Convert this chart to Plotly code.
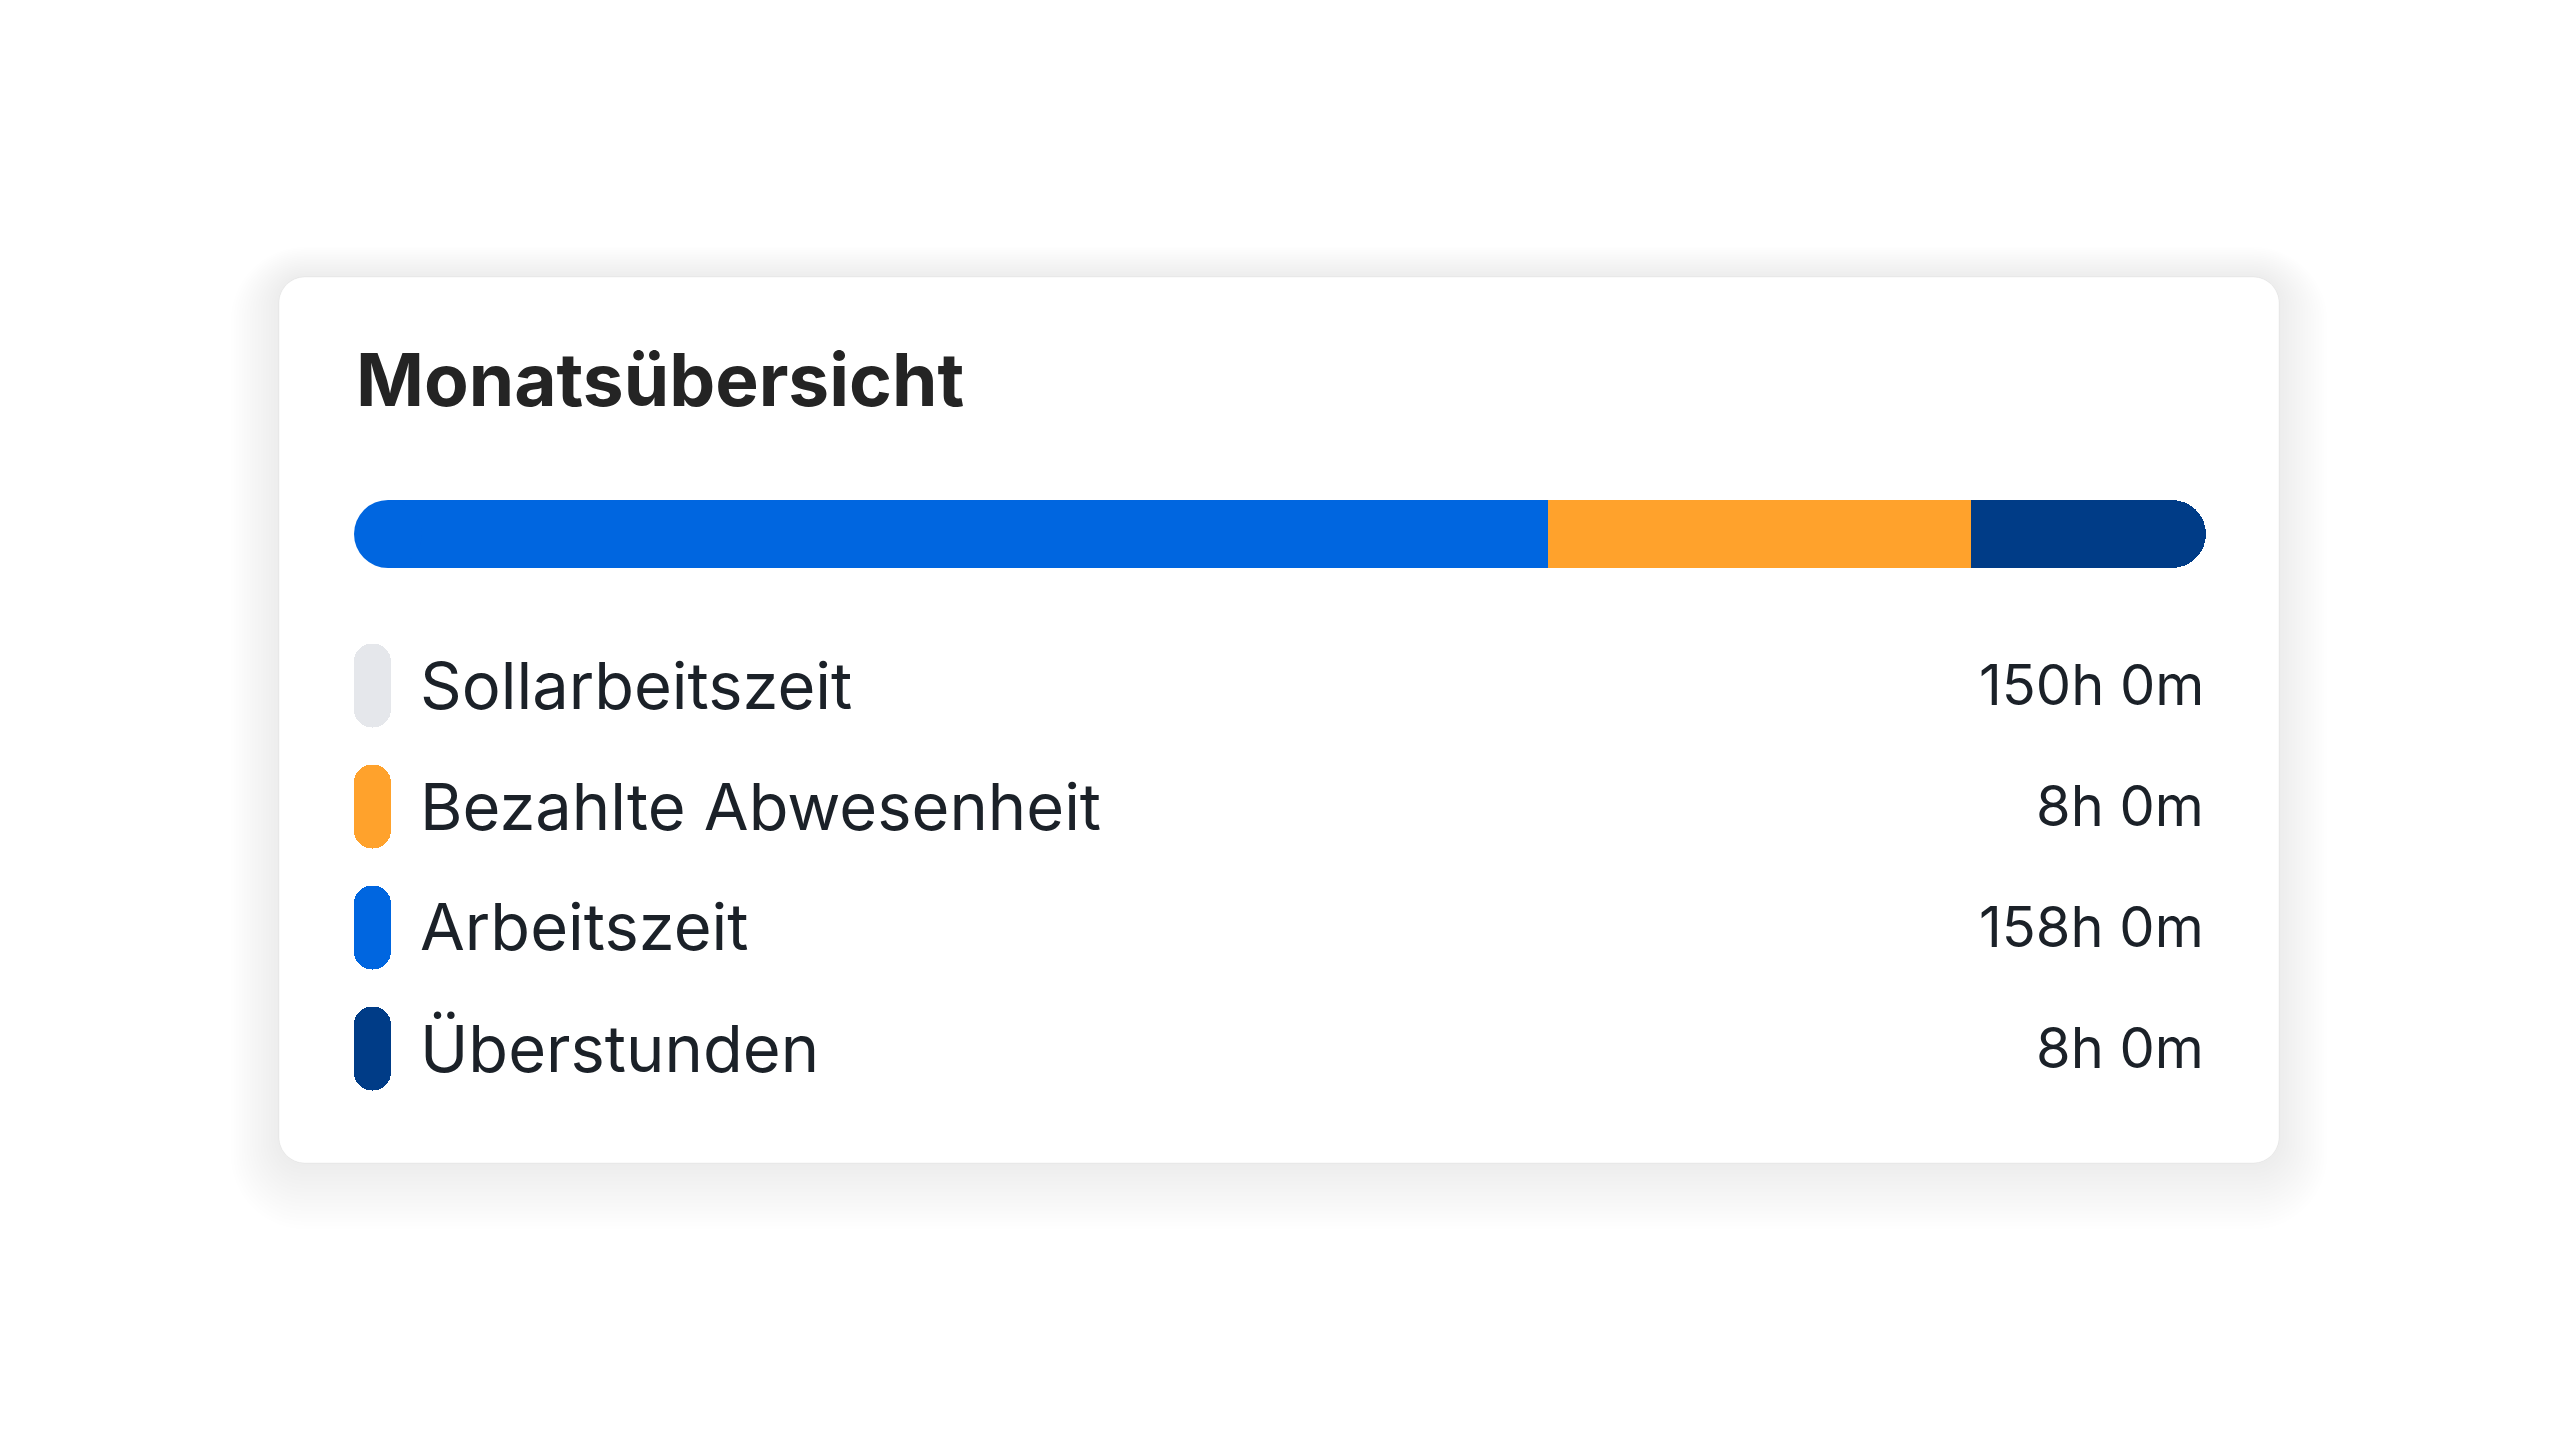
import plotly.graph_objects as go

W, H = 2560, 1440
OFF = 8  # page body margin of the written html

# ---------------- data ----------------
title = "Monatsübersicht"
bar_categories = ["Arbeitszeit", "Bezahlte Abwesenheit", "Überstunden"]
bar_shares = [63.8, 23.3, 12.9]          # share of the progress bar
bar_colors = ["#0066E0", "#FFA22C", "#003C87"]

legend_labels = ["Sollarbeitszeit", "Bezahlte Abwesenheit", "Arbeitszeit", "Überstunden"]
legend_values = ["150h 0m", "8h 0m", "158h 0m", "8h 0m"]
legend_colors = ["#E5E7EB", "#FFA22C", "#0066E0", "#003C87"]

# ---------------- layout constants (pixels, screen coordinates) ----------------
CARD = (279, 277, 2279, 1163)
CARD_R = 26
BAR_X0, BAR_X1 = 354, 2206
BAR_Y0, BAR_Y1 = 500, 568
CAP = (BAR_Y1 - BAR_Y0) / 2
ROW_Y0, ROW_STEP = 685, 121
PILL_X0, PILL_X1 = 354, 391
PILL_H = 84
LABEL_X = 418
VALUE_X = 2206
TITLE_X, TITLE_Y = 354, 380

TEXT_DARK = "#1B2128"
TITLE_COLOR = "#242424"
FONT = "Inter"


def px(x):
    return (x - OFF) / W


def py(y):
    return 1 - (y - OFF) / H


def rrect_path(x0, y0, x1, y1, r):
    k = 0.5523 * r
    pts = [
        ("M", [(x0 + r, y0)]),
        ("L", [(x1 - r, y0)]),
        ("C", [(x1 - r + k, y0), (x1, y0 + r - k), (x1, y0 + r)]),
        ("L", [(x1, y1 - r)]),
        ("C", [(x1, y1 - r + k), (x1 - r + k, y1), (x1 - r, y1)]),
        ("L", [(x0 + r, y1)]),
        ("C", [(x0 + r - k, y1), (x0, y1 - r + k), (x0, y1 - r)]),
        ("L", [(x0, y0 + r)]),
        ("C", [(x0, y0 + r - k), (x0 + r - k, y0), (x0 + r, y0)]),
    ]
    s = ""
    for cmd, coords in pts:
        s += cmd + " ".join(f"{px(a):.6f},{py(b):.6f}" for a, b in coords) + " "
    return s + "Z"


shapes = []
# soft shadow
N = 18
for i in range(N, 0, -1):
    e = i * 2.7
    dy = i * 1.0
    shapes.append(dict(
        type="path", xref="paper", yref="paper", layer="below",
        path=rrect_path(CARD[0] - e, CARD[1] - e + dy, CARD[2] + e, CARD[3] + e + dy, CARD_R + e),
        fillcolor="rgba(0,0,0,0.0045)", line=dict(width=0),
    ))
# card
shapes.append(dict(
    type="path", xref="paper", yref="paper", layer="below",
    path=rrect_path(*CARD, CARD_R),
    fillcolor="#FFFFFF", line=dict(width=1, color="rgba(0,0,0,0.045)"),
))

fig = go.Figure()

# ---------------- progress bar ----------------
total = sum(bar_shares)
bar_px = BAR_X1 - BAR_X0
c = CAP * total / (bar_px - CAP)   # data units covered by the left round cap

for name, v, col in zip(bar_categories, bar_shares, bar_colors):
    fig.add_trace(go.Bar(
        x=[v], y=[0], orientation="h", width=1, name=name,
        marker=dict(color=col, line=dict(width=0), cornerradius=CAP),
        hoverinfo="skip", showlegend=False, xaxis="x", yaxis="y",
    ))
# round cap at the start of the bar
fig.add_trace(go.Scatter(
    x=[0], y=[0], mode="markers",
    marker=dict(size=2 * CAP, color=bar_colors[0], line=dict(width=0)),
    hoverinfo="skip", showlegend=False, xaxis="x", yaxis="y", cliponaxis=False,
))

# ---------------- legend pills ----------------
n = len(legend_labels)
ph = PILL_H / ROW_STEP
fig.add_trace(go.Bar(
    x=[0] * n, y=[ph] * n, base=[i - ph / 2 for i in range(n)], width=1,
    marker=dict(color=legend_colors, line=dict(width=0), cornerradius="50%"),
    hoverinfo="skip", showlegend=False, xaxis="x2", yaxis="y2",
))

annotations = [dict(
    text=title, x=px(TITLE_X), y=py(TITLE_Y), xref="paper", yref="paper",
    xanchor="left", yanchor="middle", showarrow=False,
    font=dict(family=FONT, size=73, color=TITLE_COLOR, weight=700),
)]
for i, (lab, val) in enumerate(zip(legend_labels, legend_values)):
    yc = ROW_Y0 + i * ROW_STEP
    annotations.append(dict(
        text=lab, x=px(LABEL_X), y=py(yc), xref="paper", yref="paper",
        xanchor="left", yanchor="middle", showarrow=False,
        font=dict(family=FONT, size=65, color=TEXT_DARK),
    ))
    annotations.append(dict(
        text=val, x=px(VALUE_X), y=py(yc), xref="paper", yref="paper",
        xanchor="right", yanchor="middle", showarrow=False,
        font=dict(family=FONT, size=56, color=TEXT_DARK),
    ))

hidden = dict(visible=False, showgrid=False, zeroline=False, fixedrange=True)
rows_top = ROW_Y0 - ROW_STEP / 2
rows_bot = rows_top + n * ROW_STEP

fig.update_layout(
    width=W, height=H,
    margin=dict(l=0, r=0, t=0, b=0),
    paper_bgcolor="#FFFFFF", plot_bgcolor="rgba(0,0,0,0)",
    barmode="stack", bargap=0,
    xaxis=dict(domain=[px(BAR_X0), px(BAR_X1)], range=[-c, total], **hidden),
    yaxis=dict(domain=[py(BAR_Y1), py(BAR_Y0)], range=[-0.5, 0.5], **hidden),
    xaxis2=dict(domain=[px(PILL_X0), px(PILL_X1)], range=[-0.5, 0.5], anchor="y2", **hidden),
    yaxis2=dict(domain=[py(rows_bot), py(rows_top)], range=[n - 0.5, -0.5], anchor="x2", **hidden),
    shapes=shapes,
    annotations=annotations,
    showlegend=False,
)

fig.write_html("out.html")
